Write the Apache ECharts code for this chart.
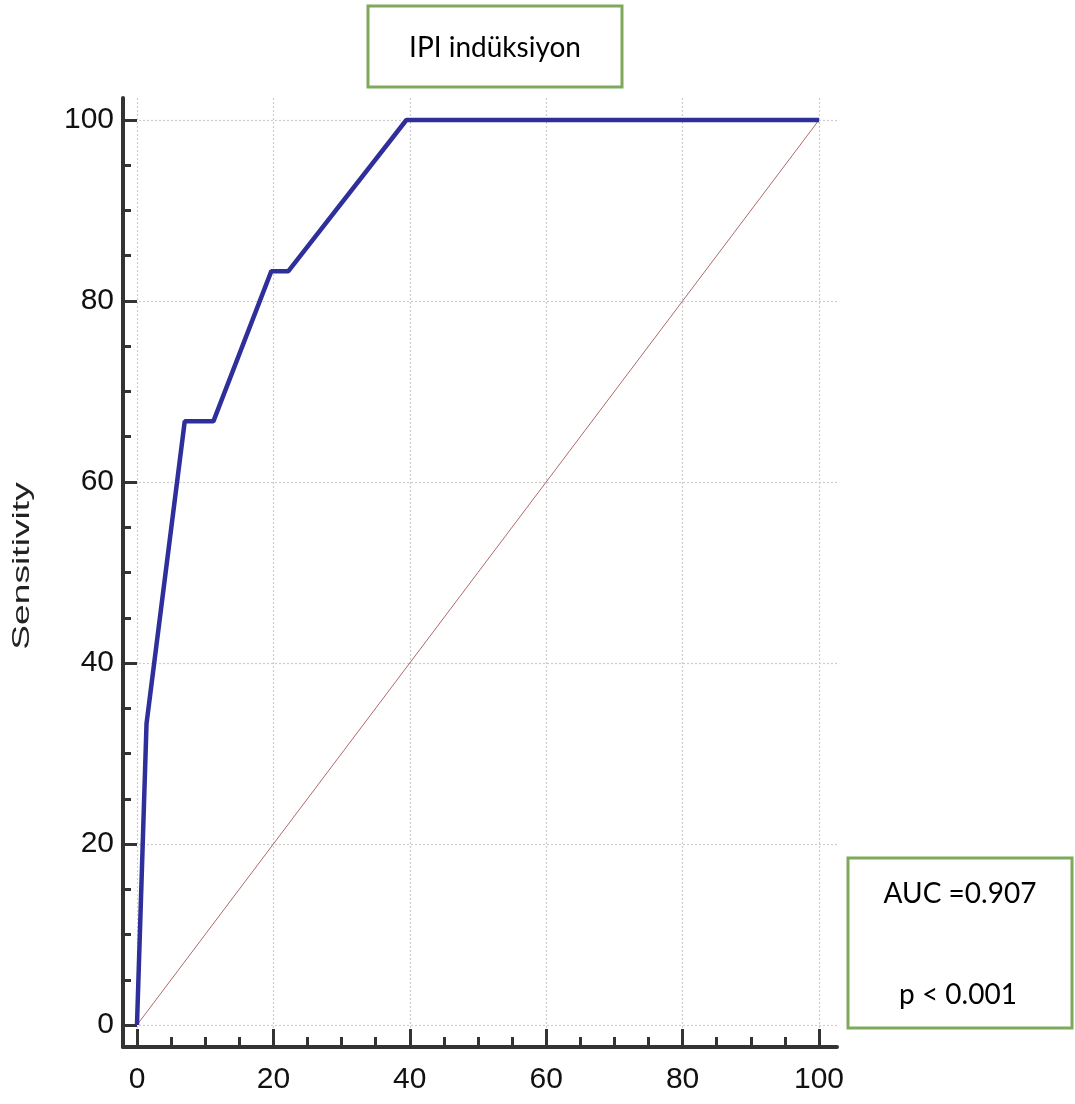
<!DOCTYPE html>
<html>
<head>
<meta charset="utf-8">
<script src="https://cdn.jsdelivr.net/npm/echarts@6/dist/echarts.min.js"></script>
<style>
html,body{margin:0;padding:0;background:#fff;}
#chart{width:1075px;height:1104px;}
</style>
</head>
<body>
<div id="chart"></div>
<script>
// ROC curve points: [100 - Specificity, Sensitivity]
const rocPoints = [[0, 0], [1.4, 33.3], [7.0, 66.7], [11.2, 66.7], [19.7, 83.3], [22.2, 83.3], [39.5, 100], [100, 100]];
const diagonalPoints = [[0, 0], [100, 100]];
const majorTicks = [0, 20, 40, 60, 80, 100];
const minorTicks = [5, 10, 15, 25, 30, 35, 45, 50, 55, 65, 70, 75, 85, 90, 95];
const titleText = 'IPI indüksiyon';
const yAxisTitle = 'Sensitivity';
const aucText = 'AUC =0.907';
const pText = 'p < 0.001';

const axisColor = '#333333';
const labelFont = '"Liberation Sans", Arial, sans-serif';
const xMin = -2.05, xMax = 102.64, yMin = -2.43, yMax = 102.43;

const chart = echarts.init(document.getElementById('chart'), null, {renderer: 'canvas'});

function mainAxis(min, max, pos, tickLen, isX) {
  return {
    type: 'value', min: min, max: max, position: pos,
    axisLine: {show: true, onZero: false, lineStyle: {color: axisColor, width: 4}},
    axisTick: {show: true, inside: true, length: tickLen, customValues: majorTicks,
      lineStyle: {color: axisColor, width: 3}},
    axisLabel: {show: true, customValues: majorTicks, fontSize: 30, fontFamily: labelFont,
      color: '#111', margin: isX ? 18 : 9},
    splitLine: {show: true, lineStyle: {color: '#cccccc', width: 1.2, type: [2, 2]}}
  };
}
function minorAxis(min, max, pos, tickLen) {
  return {
    type: 'value', min: min, max: max, position: pos,
    axisLine: {show: false, onZero: false},
    axisTick: {show: true, inside: true, length: tickLen, customValues: minorTicks,
      lineStyle: {color: axisColor, width: 3}},
    axisLabel: {show: false},
    splitLine: {show: false}
  };
}

chart.setOption({
  animation: false,
  backgroundColor: '#ffffff',
  grid: {left: 123, right: 238, top: 98, bottom: 57, containLabel: false},
  xAxis: [mainAxis(xMin, xMax, 'bottom', 18, true), minorAxis(xMin, xMax, 'bottom', 10)],
  yAxis: [mainAxis(yMin, yMax, 'left', 14, false), minorAxis(yMin, yMax, 'left', 8)],
  series: [
    {
      type: 'line', name: 'diagonal', data: diagonalPoints, xAxisIndex: 0, yAxisIndex: 0,
      symbol: 'none', lineStyle: {color: '#b06a6a', width: 1}, z: 2
    },
    {
      type: 'line', name: 'ROC', data: rocPoints, xAxisIndex: 0, yAxisIndex: 0,
      symbol: 'none', lineStyle: {color: '#2f2f9c', width: 4.5}, z: 3
    }
  ],
  graphic: [
    {type: 'rect', shape: {x: 368, y: 6, width: 254, height: 81},
      style: {fill: '#fff', stroke: '#7fa95a', lineWidth: 3}},
    {type: 'text', x: 495, y: 48,
      style: {text: titleText, font: '28px Lato', fill: '#000', textAlign: 'center', textVerticalAlign: 'middle'}},
    {type: 'rect', shape: {x: 848, y: 858, width: 224, height: 170},
      style: {fill: '#fff', stroke: '#7fa95a', lineWidth: 3}},
    {type: 'text', x: 960, y: 894,
      style: {text: aucText, font: '28px Lato', fill: '#000', textAlign: 'center', textVerticalAlign: 'middle'}},
    {type: 'text', x: 958, y: 995,
      style: {text: pText, font: '28px Lato', fill: '#000', textAlign: 'center', textVerticalAlign: 'middle'}},
    {type: 'text', x: 22, y: 566, rotation: Math.PI / 2, scaleX: 1.55,
      style: {text: yAxisTitle, font: '24px "Liberation Sans"', fill: '#222', textAlign: 'center', textVerticalAlign: 'middle'}}
  ]
});
</script>
</body>
</html>
